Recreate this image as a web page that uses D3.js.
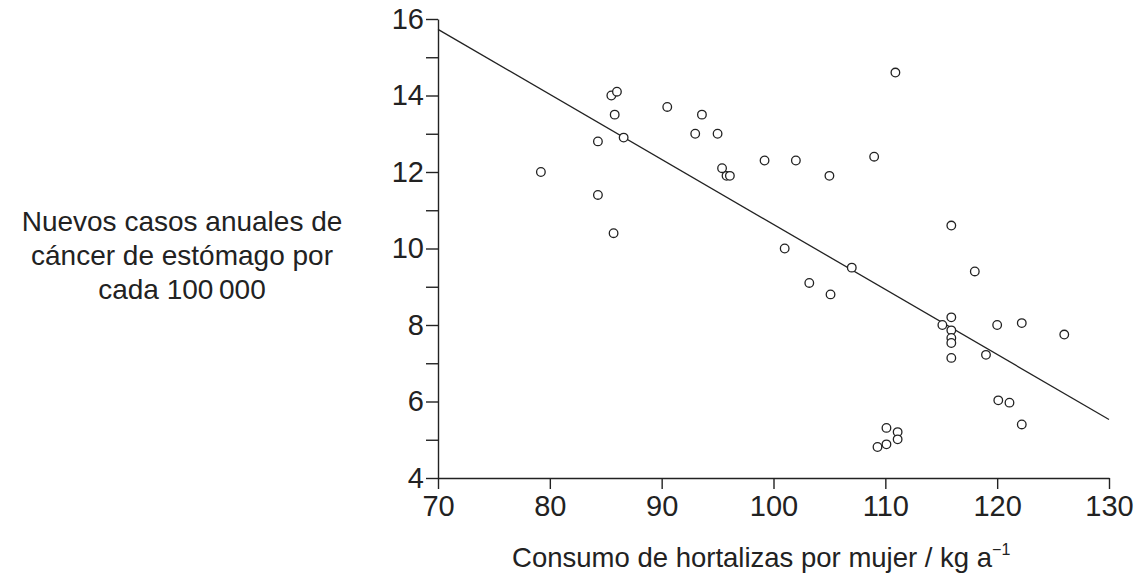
<!DOCTYPE html>
<html lang="es">
<head>
  <meta charset="UTF-8">
  <title>Consumo de hortalizas y cáncer de estómago</title>
  <style>
    body { margin: 0; background: #fff; }
    svg { display: block; }
    text { font-family: "Liberation Sans", Arial, sans-serif; fill: #222; }
    .axis path, .axis line { stroke: #222; stroke-width: 1.4px; }
  </style>
  <script src="https://d3js.org/d3.v7.min.js"></script>
</head>
<body>
  <svg id="chart" width="1146" height="578"></svg>
  <script>
    // consumo (kg/año) y casos por 100 000
    const consumo = [79.2, 84.3, 84.3, 85.5, 86.0, 85.8, 85.7, 86.6, 90.5, 93.0, 93.6, 95.0,
      95.4, 95.8, 96.1, 99.2, 102.0, 105.0, 109.0, 110.9, 115.9, 101.0, 103.2, 105.1, 107.0,
      118.0, 115.1, 115.9, 115.9, 115.9, 115.9, 115.9, 119.0, 120.0, 122.2, 126.0, 120.1,
      121.1, 122.2, 110.1, 111.1, 111.1, 110.1, 109.3];
    const casos = [12.0, 12.8, 11.4, 14.0, 14.1, 13.5, 10.4, 12.9, 13.7, 13.0, 13.5, 13.0,
      12.1, 11.9, 11.9, 12.3, 12.3, 11.9, 12.4, 14.6, 10.6, 10.0, 9.1, 8.8, 9.5,
      9.4, 8.0, 8.2, 7.86, 7.66, 7.53, 7.14, 7.22, 8.0, 8.05, 7.75, 6.03,
      5.97, 5.4, 5.31, 5.2, 5.01, 4.88, 4.81];
    // recta de regresión (extremos)
    const rectaX = [70, 130];
    const rectaY = [15.73, 5.53];

    const xTicks = d3.range(70, 131, 10);
    const yTicks = d3.range(4, 17, 1);

    const margin = {top: 19, right: 37, bottom: 100, left: 438};
    const width = 1146, height = 578;

    const svg = d3.select('#chart');
    const x = d3.scaleLinear().domain([70, 130]).range([margin.left, width - margin.right]);
    const y = d3.scaleLinear().domain([4, 16]).range([height - margin.bottom, margin.top]);

    const gx = svg.append('g')
      .attr('class', 'axis')
      .attr('transform', `translate(0,${height - margin.bottom})`)
      .call(d3.axisBottom(x).tickValues(xTicks).tickSize(11).tickSizeOuter(0).tickPadding(6));
    gx.selectAll('text').style('font-size', '29px');

    const gy = svg.append('g')
      .attr('class', 'axis')
      .attr('transform', `translate(${margin.left},0)`)
      .call(d3.axisLeft(y).tickValues(yTicks).tickSize(12).tickSizeOuter(0).tickPadding(2)
        .tickFormat(d => d % 2 === 0 ? d : ''));
    gy.selectAll('text').style('font-size', '29px');

    svg.append('line')
      .attr('x1', x(rectaX[0])).attr('y1', y(rectaY[0]))
      .attr('x2', x(rectaX[1])).attr('y2', y(rectaY[1]))
      .attr('stroke', '#222').attr('stroke-width', 1.3);

    svg.append('g')
      .selectAll('circle')
      .data(consumo.map((c, i) => [c, casos[i]]))
      .join('circle')
      .attr('cx', d => x(d[0]))
      .attr('cy', d => y(d[1]))
      .attr('r', 4.3)
      .attr('fill', '#fff')
      .attr('stroke', '#222')
      .attr('stroke-width', 1.3);

    // título eje y
    const ty = svg.append('text')
      .attr('text-anchor', 'middle')
      .style('font-size', '28px');
    ['Nuevos casos anuales de', 'cáncer de estómago por', 'cada 100\u2009000'].forEach((t, i) => {
      ty.append('tspan').attr('x', 182).attr('y', 231 + i * 34).text(t);
    });

    // título eje x
    const tx = svg.append('text')
      .attr('x', x(98.9)).attr('y', 567)
      .attr('text-anchor', 'middle')
      .style('font-size', '27.5px');
    tx.append('tspan').text('Consumo de hortalizas por mujer / kg a');
    tx.append('tspan').attr('dy', -12).style('font-size', '16px').text('\u22121');
  </script>
</body>
</html>
